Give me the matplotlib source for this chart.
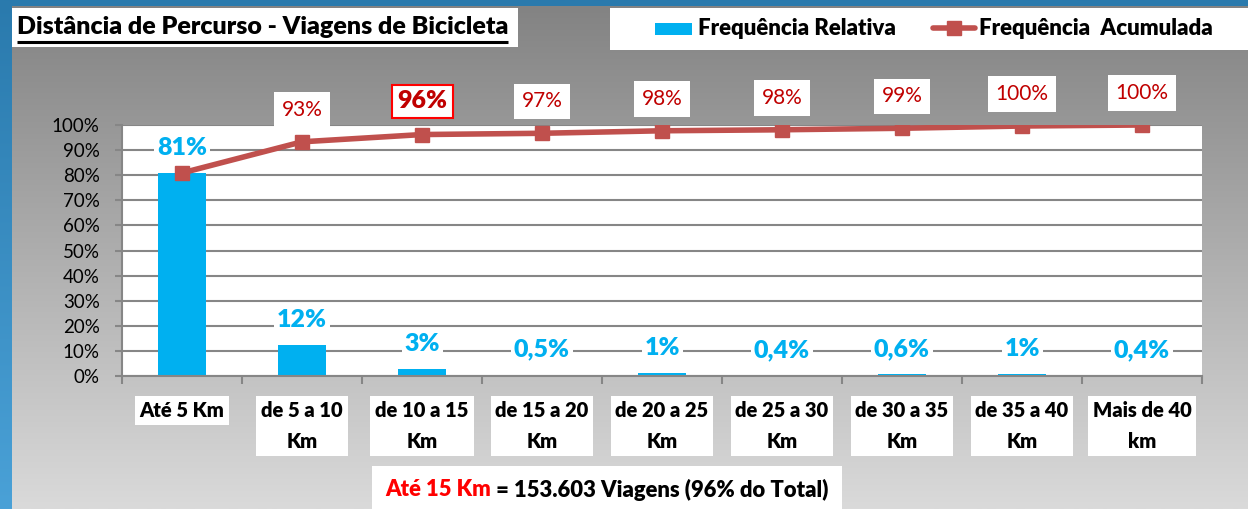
import numpy as np
import matplotlib
import matplotlib.pyplot as plt
from matplotlib.patches import Rectangle
from matplotlib.colors import LinearSegmentedColormap

matplotlib.use('Agg')

categorias = ['Até 5 Km', 'de 5 a 10\nKm', 'de 10 a 15\nKm', 'de 15 a 20\nKm', 'de 20 a 25\nKm',
              'de 25 a 30\nKm', 'de 30 a 35\nKm', 'de 35 a 40\nKm', 'Mais de 40\nkm']
freq_relativa = [80.9, 12.4, 2.9, 0.5, 1.0, 0.4, 0.6, 0.9, 0.4]
freq_acumulada = [80.9, 93.3, 96.2, 96.7, 97.7, 98.1, 98.7, 99.6, 100.0]
rotulos_relativa = ['81%', '12%', '3%', '0,5%', '1%', '0,4%', '0,6%', '1%', '0,4%']
rotulos_acumulada = [None, '93%', '96%', '97%', '98%', '98%', '99%', '100%', '100%']
destaque = 2
yticks = list(range(0, 101, 10))

AZUL = '#00b0f0'
VERMELHO = '#c0504d'
ROTULO_VERM = '#c00000'
NEGRITO = 'heavy'

plt.rcParams['font.family'] = ['Lato', 'DejaVu Sans']

W, H = 1248, 509
fig = plt.figure(figsize=(W / 100, H / 100), dpi=100)

# fundo: moldura azul + gradiente cinza (coordenadas em pixels)
bg = fig.add_axes([0, 0, 1, 1])
bg.axis('off')
azul = LinearSegmentedColormap.from_list('azul', ['#2a7aad', '#4aa1d7'])
cinza = LinearSegmentedColormap.from_list('cinza', ['#838383', '#dadada'])
grad = np.linspace(0, 1, 256).reshape(-1, 1)
bg.imshow(grad, cmap=azul, extent=[0, W, H, 0], aspect='auto')
bg.imshow(grad, cmap=cinza, extent=[12, W, H, 6], aspect='auto')
bg.set_xlim(0, W)
bg.set_ylim(H, 0)

# titulo
bg.add_patch(Rectangle((12, 8), 506, 39, facecolor='white', edgecolor='none'))
titulo = bg.text(17, 27, 'Distância de Percurso - Viagens de Bicicleta', fontsize=18,
                 fontweight=NEGRITO, va='center', ha='left', color='black')

# legenda
bg.add_patch(Rectangle((610, 8), 638, 42, facecolor='white', edgecolor='none'))
bg.add_patch(Rectangle((655, 23), 37, 12, facecolor=AZUL, edgecolor='none'))
bg.text(698, 28, 'Frequência Relativa', fontsize=16, fontweight=NEGRITO, va='center')
bg.plot([933, 975], [28, 28], color=VERMELHO, lw=4, solid_capstyle='round')
bg.plot([954], [28], color=VERMELHO, marker='s', markersize=10, lw=0)
bg.text(979, 28, 'Frequência  Acumulada', fontsize=16, fontweight=NEGRITO, va='center')

# nota inferior
bg.add_patch(Rectangle((372, 466), 470, 50, facecolor='white', edgecolor='none'))
nota1 = bg.text(385, 490, 'Até 15 Km', fontsize=15.8, fontweight=NEGRITO, color='#ff0000', va='center')

# grafico
ax = fig.add_axes([122 / W, 1 - 376 / H, 1080 / W, 251 / H])
x = np.arange(len(categorias))
ax.bar(x, freq_relativa, width=0.4, color=AZUL, zorder=2)
ax.plot(x, freq_acumulada, color=VERMELHO, lw=4, marker='s', markersize=10, zorder=3)

ax.set_xlim(-0.5, len(categorias) - 0.5)
ax.set_ylim(0, 100)
ax.set_yticks(yticks)
ax.set_yticklabels([f'{v}%' for v in yticks], fontsize=13.5)
ax.yaxis.grid(True, color='#868686', lw=1.5, zorder=0)
ax.set_axisbelow(True)
for s in ['top', 'right']:
    ax.spines[s].set_visible(False)
for s in ['left', 'bottom']:
    ax.spines[s].set_color('#868686')
    ax.spines[s].set_linewidth(1.5)
ax.tick_params(axis='y', length=5, color='#868686', width=1.5, pad=11)
ax.set_xticks(x)
ax.set_xticklabels([])
ax.tick_params(axis='x', length=0)
ax.set_xticks(np.arange(-0.5, len(categorias), 1), minor=True)
ax.tick_params(axis='x', which='minor', length=6, color='#868686', width=1.5)

for i, cat in enumerate(categorias):
    ax.text(i, -0.1, cat, transform=ax.get_xaxis_transform(), ha='center', va='top',
            fontsize=14.5, fontweight=NEGRITO, linespacing=1.75,
            bbox=dict(facecolor='white', edgecolor='none', pad=3.5))

for i, (v, r) in enumerate(zip(freq_relativa, rotulos_relativa)):
    ax.annotate(r, (i, v), xytext=(0, 18), textcoords='offset points', ha='center', va='center',
                fontsize=18, fontweight=NEGRITO, color=AZUL, zorder=5,
                bbox=dict(facecolor='white', edgecolor='none', pad=2))

for i, (v, r) in enumerate(zip(freq_acumulada, rotulos_acumulada)):
    if r is None:
        continue
    if i == destaque:
        ax.annotate(r, (i, v), xytext=(0, 24), textcoords='offset points', ha='center', va='center',
                    fontsize=18, fontweight=NEGRITO, color=ROTULO_VERM, zorder=5,
                    bbox=dict(facecolor='white', edgecolor='#ff0000', lw=1.5, pad=4))
    else:
        ax.annotate(r, (i, v), xytext=(0, 23), textcoords='offset points', ha='center', va='center',
                    fontsize=15, color=ROTULO_VERM, zorder=5,
                    bbox=dict(facecolor='white', edgecolor='none', pad=5.5))

# sublinhado do titulo e resto da nota
fig.canvas.draw()
r = fig.canvas.get_renderer()
inv = bg.transData.inverted()
bb = titulo.get_window_extent(r)
x0, _ = inv.transform((bb.x0, bb.y0))
x1, _ = inv.transform((bb.x1, bb.y0))
bg.plot([x0, x1], [41.5, 41.5], color='black', lw=2.2, solid_capstyle='butt')
bb = nota1.get_window_extent(r)
xn, _ = inv.transform((bb.x1, bb.y0))
bg.text(xn, 490, ' = 153.603 Viagens (96% do Total)', fontsize=15.8, fontweight=NEGRITO,
        color='black', va='center')

fig.savefig('out.png', dpi=100)
